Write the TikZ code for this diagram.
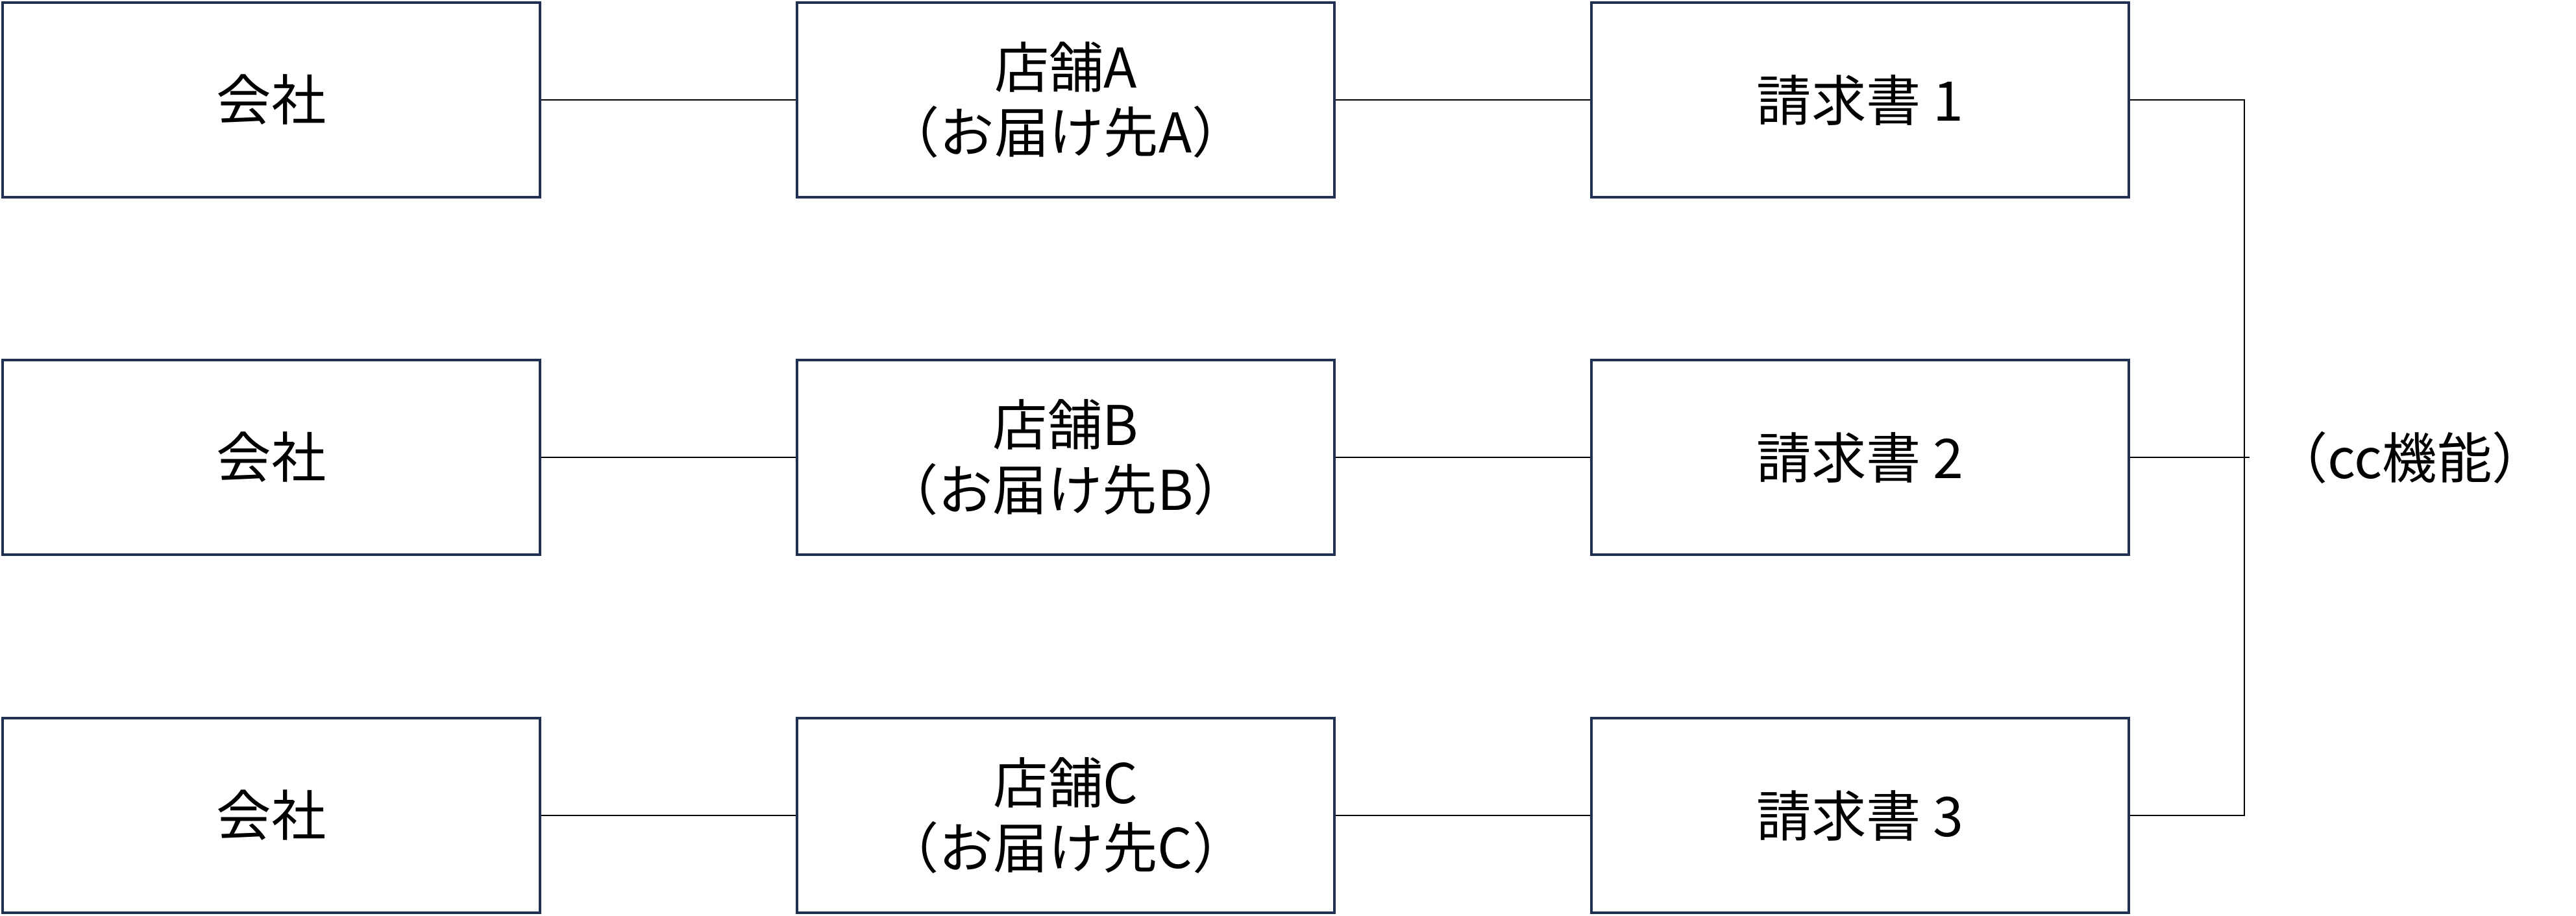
\documentclass[tikz,border=0pt]{standalone}
\usepackage{fontspec}
\setmainfont{Noto Sans CJK JP}
\definecolor{boxline}{HTML}{1F3052}
\begin{document}
\begin{tikzpicture}[
    block/.style={draw=boxline, line width=1.1pt, minimum width=8.28cm, minimum height=3cm,
        align=center, font=\fontsize{24}{28.5}\selectfont, inner sep=0pt},
    link/.style={draw=black, line width=0.5pt}
    ]
            \useasboundingbox (0,0) rectangle (39.69,-14.11);

            \def\xa{4.18}
            \def\xb{16.42}
            \def\xc{28.66}
            \def\xd{34.58}

            \def\ya{-1.54}
            \def\yb{-7.05}
            \def\yc{-12.57}

            \node[block](co1) at (\xa, \ya) {会社};
            \node[block](co2) at (\xa, \yb) {会社};
            \node[block](co3) at (\xa, \yc) {会社};

            \node[block](st1) at (\xb, \ya) {店舗A\\（お届け先A）};
            \node[block](st2) at (\xb, \yb) {店舗B\\（お届け先B）};
            \node[block](st3) at (\xb, \yc) {店舗C\\（お届け先C）};

            \node[block](inv1) at (\xc, \ya) {請求書 1};
            \node[block](inv2) at (\xc, \yb) {請求書 2};
            \node[block](inv3) at (\xc, \yc) {請求書 3};

            \draw[link] (co1) -- (st1);
            \draw[link] (co2) -- (st2);
            \draw[link] (co3) -- (st3);
            \draw[link] (st1) -- (inv1);
            \draw[link] (st2) -- (inv2);
            \draw[link] (st3) -- (inv3);

            \coordinate(cc1) at (\xd, \ya);
            \coordinate(cc2) at (\xd + 0.08, \yb);
            \coordinate(cc3) at (\xd, \yc);
            \draw[link] (inv1) -- (cc1) -- (cc3) -- (inv3);
            \draw[link] (inv2) -- (cc2);

            \node[font=\fontsize{24}{28.5}\selectfont](cc) at (37.13, \yb) {（cc機能）};
        \end{tikzpicture}
\end{document}
